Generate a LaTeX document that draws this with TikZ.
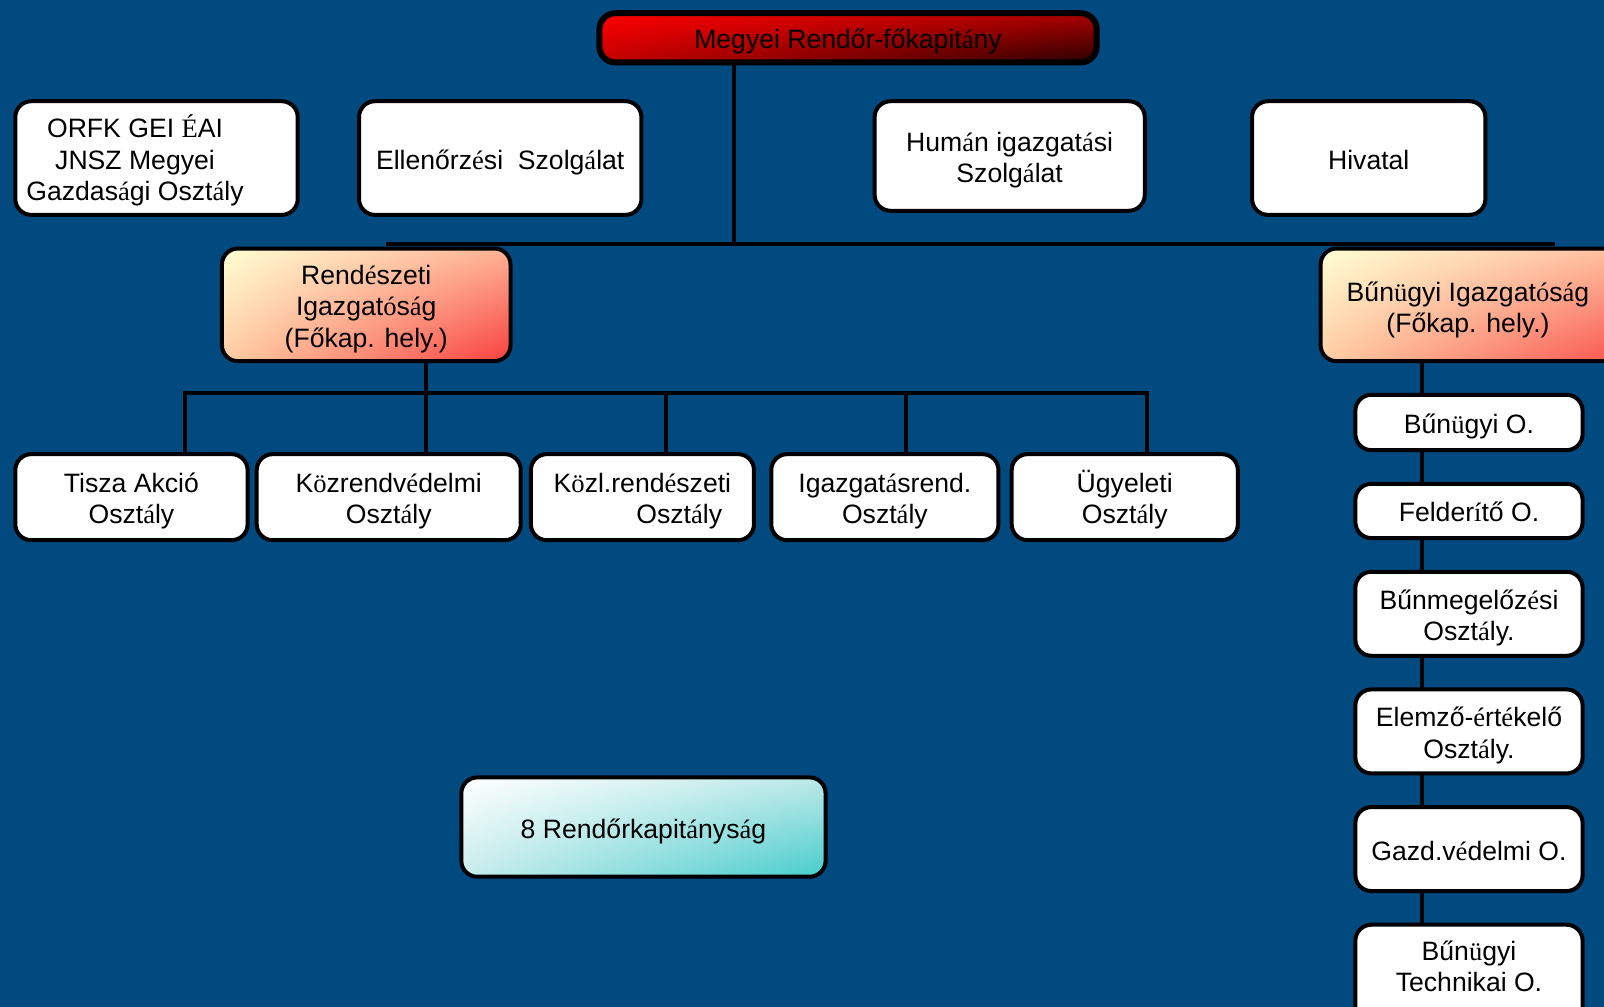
\documentclass[tikz,border=0pt]{standalone}
\usepackage{fontspec}
\setmainfont{Liberation Sans}
\newfontfamily\accserif{Liberation Serif}
\newcommand\sr[1]{{\accserif #1}}
\newcommand\upst{\rule{0pt}{14pt}}
\newcommand\dnst{\rule[-3pt]{0pt}{0pt}}
\usetikzlibrary{shadings}
\definecolor{bgblue}{RGB}{0,74,127}
\definecolor{topUL}{RGB}{255,0,0}
\definecolor{topUR}{RGB}{170,0,0}
\definecolor{topLL}{RGB}{195,0,0}
\definecolor{topLR}{RGB}{40,0,0}
\definecolor{orUL}{RGB}{255,255,212}
\definecolor{orUR}{RGB}{255,178,148}
\definecolor{orLL}{RGB}{255,205,165}
\definecolor{orLR}{RGB}{248,62,62}
\definecolor{tqUL}{RGB}{255,255,255}
\definecolor{tqUR}{RGB}{190,232,232}
\definecolor{tqLL}{RGB}{200,236,236}
\definecolor{tqLR}{RGB}{70,204,204}
\pgfdeclarelayer{bgl}
\pgfdeclarelayer{lnl}
\pgfsetlayers{bgl,lnl,main}
\begin{document}
\begin{tikzpicture}[x=0.5115pt,y=-0.5115pt,
  font=\fontsize{13.3}{15.6}\selectfont,
  boxbase/.style={draw=black,line width=2pt,rounded corners=8pt,align=center,inner sep=0pt},
  wbox/.style={boxbase,fill=white},
  sz/.style 2 args={minimum width={(#1)*0.5115pt-2pt},minimum height={(#2)*0.5115pt-2pt}},
  conn/.style={draw=black,line width=2pt},
  txt/.style={align=center,inner sep=0pt},
  orangeshade/.style={boxbase,upper left=orUL,upper right=orUR,lower left=orLL,lower right=orLR},
  tealshade/.style={boxbase,upper left=tqUL,upper right=tqUR,lower left=tqLL,lower right=tqLR}]
\useasboundingbox (0,0) rectangle (1568,984.4);
\begin{pgfonlayer}{bgl}
\fill[bgblue] (0,0) rectangle (1568,984.4);
\end{pgfonlayer}
\clip (0,0) rectangle (1568,984.4);

% top
\node[boxbase,line width=3pt,minimum width={492*0.5115pt-3pt},minimum height={54*0.5115pt-3pt},
  upper left=topUL,upper right=topUR,lower left=topLL,lower right=topLR] (top) at (829,37)
  {\upst Megyei Rend\H{o}r-f\H{o}kapit\sr{á}ny\dnst};

% staff row
\node[wbox,sz={280}{115}] (orfk) at (153,154.5) {};
\node[txt] (orfktext) at (132,154.5) {\upst ORFK GEI \sr{É}AI\\JNSZ Megyei\\Gazdas\sr{á}gi Oszt\sr{á}ly\dnst};
\node[wbox,sz={280}{115}] (ell) at (489,154.5) {\upst Ellen\H{o}rz\sr{é}si\ \ Szolg\sr{á}lat\dnst};
\node[wbox,sz={268}{111}] (human) at (987,152.5) {\upst Hum\sr{á}n igazgat\sr{á}si\\Szolg\sr{á}lat\dnst};
\node[wbox,sz={232}{115}] (hiv) at (1338,154.5) {\upst Hivatal\dnst};

% directorates
\node[orangeshade,sz={286}{114}] (rend) at (358,298) {\upst Rend\sr{é}szeti\\Igazgat\sr{ó}s\sr{á}g\\(F\H{o}kap. hely.)\dnst};
\node[orangeshade,sz={351}{114}] (bun) at (1464.5,298) {};
\node[txt] (buntext) at (1435,299) {\upst B\H{u}n\sr{ü}gyi Igazgat\sr{ó}s\sr{á}g\\(F\H{o}kap. hely.)\dnst};

% departments row
\node[wbox,sz={231}{88}] (tisza) at (128.5,486) {\upst Tisza Akci\'o\\Oszt\sr{á}ly\dnst};
\node[wbox,sz={262}{88}] (kozrend) at (380,486) {\upst K\sr{ö}zrendv\sr{é}delmi\\Oszt\sr{á}ly\dnst};
\node[wbox,sz={222}{88}] (kozl) at (628,486) {\upst K\sr{ö}zl.rend\sr{é}szeti\\\hspace*{36.8pt}Oszt\sr{á}ly\dnst};
\node[wbox,sz={226}{88}] (igaz) at (865,486) {\upst Igazgat\sr{á}srend.\\Oszt\sr{á}ly\dnst};
\node[wbox,sz={225}{88}] (ugy) at (1099.5,486) {\upst\"Ugyeleti\\Oszt\sr{á}ly\dnst};

% right column
\node[wbox,sz={226}{58}] (bo) at (1436,413) {\upst B\H{u}n\sr{ü}gyi O.\dnst};
\node[wbox,sz={226}{57}] (fel) at (1436,499.5) {\upst Felder\sr{í}t\H{o} O.\dnst};
\node[wbox,sz={226}{86}] (bm) at (1436,600) {\upst B\H{u}nmegel\H{o}z\sr{é}si\\Oszt\sr{á}ly.\dnst};
\node[wbox,sz={226}{86}] (el) at (1436,715) {\upst Elemz\H{o}-\sr{é}rt\sr{é}kel\H{o}\\Oszt\sr{á}ly.\dnst};
\node[wbox,sz={226}{86}] (gv) at (1436,830) {\upst Gazd.v\sr{é}delmi O.\dnst};
\node[wbox,sz={226}{128}] (bt) at (1436,966) {};
\node[txt] (bttext) at (1436,943.5) {\upst B\H{u}n\sr{ü}gyi\\Technikai O.\dnst};

% police stations
\node[tealshade,sz={360}{101}] (kap) at (629,808.5) {\upst 8 Rend\H{o}rkapit\sr{á}nys\sr{á}g\dnst};

% connectors
\coordinate (topdrop) at (718,239);
\coordinate (hbusL) at (377,239);
\coordinate (hbusR) at (1520,239);
\coordinate (c1) at (181,384);
\coordinate (c2) at (416,384);
\coordinate (c3) at (651,384);
\coordinate (c4) at (886,384);
\coordinate (c5) at (1121,384);
\coordinate (rail) at (1390,0);
\begin{pgfonlayer}{lnl}
\draw[conn] (top.south -| topdrop) -- (topdrop);
\draw[conn] (hbusL) -- (hbusR);
\draw[conn] (rend.south -| c2) -- (c2);
\draw[conn] ([xshift=-1pt]c1) -- ([xshift=1pt]c5);
\draw[conn] (c1) -- (tisza.north -| c1);
\draw[conn] (c2) -- (kozrend.north -| c2);
\draw[conn] (c3) -- (kozl.north -| c3);
\draw[conn] (c4) -- (igaz.north -| c4);
\draw[conn] (c5) -- (ugy.north -| c5);
\draw[conn] (bun.south -| rail) -- (bt.north -| rail);
\end{pgfonlayer}
\end{tikzpicture}
\end{document}
